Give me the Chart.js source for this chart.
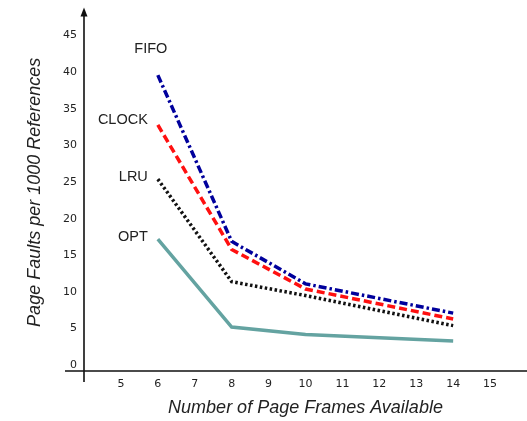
<!DOCTYPE html>
<html>
<head>
<meta charset="utf-8">
<script src="https://cdn.jsdelivr.net/npm/chart.js@4"></script>
<style>
  html, body { margin: 0; padding: 0; background: #fff; }
  #wrap { width: 527px; height: 421px; }
</style>
</head>
<body>
<div id="wrap"><canvas id="faults"></canvas></div>
<script>
// page frames available
const frames = [6, 8, 10, 14];
// page faults per 1000 references
const fifo = [39.6, 16.9, 11.1, 7.1];
const clock = [32.8, 15.8, 10.4, 6.3];
const lru = [25.4, 11.4, 9.5, 5.4];
const opt = [17.2, 5.2, 4.2, 3.3];
const xTicks = [5, 6, 7, 8, 9, 10, 11, 12, 13, 14, 15];
const yTicks = [0, 5, 10, 15, 20, 25, 30, 35, 40, 45];

function pts(ys) {
    return frames.map((f, i) => ({ x: f, y: ys[i] }));
}

// axes drawn as a cross with an arrow on top of the y axis
const crossAxes = {
    id: 'crossAxes',
    afterDraw(chart) {
        const c = chart.ctx, a = chart.chartArea;
        c.save();
        c.strokeStyle = '#111';
        c.lineWidth = 1.6;
        c.beginPath();
        c.moveTo(a.left, a.top - 2);
        c.lineTo(a.left, a.bottom + 11);
        c.moveTo(a.left - 19, a.bottom);
        c.lineTo(a.right, a.bottom);
        c.stroke();
        c.fillStyle = '#111';
        c.beginPath();
        c.moveTo(a.left, a.top - 6);
        c.lineTo(a.left - 3.5, a.top + 3);
        c.lineTo(a.left + 3.5, a.top + 3);
        c.closePath();
        c.fill();
        c.restore();
    }
};

// series names written beside the start of each line
const seriesNames = {
    id: 'seriesNames',
    afterDatasetsDraw(chart, args, opts) {
        const c = chart.ctx;
        c.save();
        c.font = '14.5px "Liberation Sans", Arial, sans-serif';
        c.fillStyle = '#222';
        c.textBaseline = 'middle';
        chart.data.datasets.forEach((ds, i) => {
            const p = chart.getDatasetMeta(i).data[0];
            const off = opts.offsets[i];
            c.textAlign = off.align;
            c.fillText(ds.label, p.x + off.dx, p.y + off.dy);
        });
        c.restore();
    }
};

new Chart(document.getElementById('faults'), {
    type: 'line',
    data: {
        datasets: [
            { label: 'FIFO', data: pts(fifo), borderColor: '#00009c', borderDash: [8, 3, 2.5, 3] },
            { label: 'CLOCK', data: pts(clock), borderColor: '#ff1010', borderDash: [8, 4] },
            { label: 'LRU', data: pts(lru), borderColor: '#111', borderDash: [2.5, 2.5] },
            { label: 'OPT', data: pts(opt), borderColor: '#64a3a1', borderDash: [] }
        ]
    },
    plugins: [crossAxes, seriesNames],
    options: {
        responsive: true,
        maintainAspectRatio: false,
        animation: false,
        datasets: {
            line: { borderWidth: 3.5, pointRadius: 0, tension: 0, fill: false }
        },
        layout: { padding: { top: 11, right: 0, left: 0, bottom: 0 } },
        scales: {
            x: {
                type: 'linear',
                min: 4,
                max: 16,
                afterBuildTicks: s => { s.ticks = xTicks.map(v => ({ value: v })); },
                afterFit: s => { s.height = 50; },
                grid: { display: false, drawTicks: false },
                border: { display: false },
                ticks: {
                    padding: 7,
                    color: '#222',
                    font: { family: '"DejaVu Sans", Verdana, sans-serif', size: 11 },
                    maxRotation: 0,
                    autoSkip: false
                },
                title: {
                    display: true,
                    text: 'Number of Page Frames Available',
                    color: '#222',
                    padding: { top: 6, bottom: 2 },
                    font: { family: '"Liberation Sans", Arial, sans-serif', size: 18, style: 'italic' }
                }
            },
            y: {
                min: -0.8,
                max: 48,
                afterBuildTicks: s => { s.ticks = yTicks.map(v => ({ value: v })); },
                afterFit: s => { s.width = 84; },
                grid: { display: false, drawTicks: false },
                border: { display: false },
                ticks: {
                    padding: 7,
                    color: '#222',
                    font: { family: '"DejaVu Sans", Verdana, sans-serif', size: 11 }
                },
                title: {
                    display: true,
                    text: 'Page Faults per 1000 References',
                    color: '#222',
                    padding: { top: 24, bottom: 0 },
                    font: { family: '"Liberation Sans", Arial, sans-serif', size: 18, style: 'italic' }
                }
            }
        },
        plugins: {
            legend: { display: false },
            tooltip: { enabled: false },
            seriesNames: {
                offsets: [
                    { dx: -7, dy: -26, align: 'center' },
                    { dx: -10, dy: -5, align: 'right' },
                    { dx: -10, dy: -2, align: 'right' },
                    { dx: -10, dy: -2, align: 'right' }
                ]
            }
        }
    }
});
</script>
</body>
</html>
